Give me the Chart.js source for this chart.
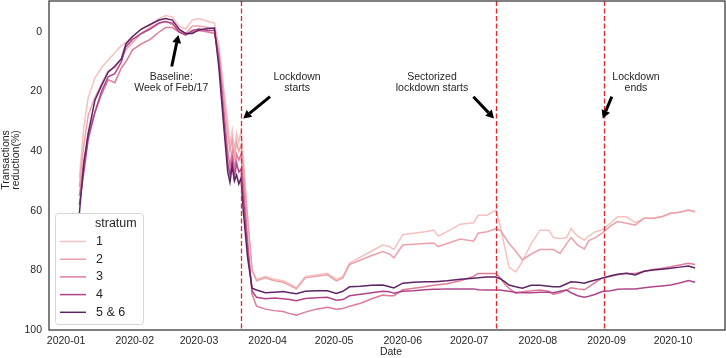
<!DOCTYPE html>
<html>
<head>
<meta charset="utf-8">
<script src="https://cdn.jsdelivr.net/npm/chart.js@4/dist/chart.umd.min.js"></script>
<style>
  html, body { margin: 0; padding: 0; background: #fff; }
</style>
</head>
<body>
<canvas id="myChart" width="726" height="358"></canvas>
<script>
// days since 2020-01-01
var days = [6, 8, 10, 13, 16, 19, 22, 25, 27, 30,
  34, 38, 42, 45, 48, 51, 54, 57, 60, 64,
  67, 69, 71, 73, 74, 75, 76, 77, 78, 79,
  80, 82, 84, 86, 90, 94, 98, 101, 104, 108,
  113, 118, 122, 125, 128, 133, 138, 143, 146, 148,
  152, 157, 162, 166, 168, 172, 178, 184, 186, 190,
  194, 196, 198, 200, 203, 206, 210, 214, 218, 220,
  223, 226, 228, 231, 234, 236, 239, 242, 246, 249,
  253, 257, 261, 265, 269, 273, 277, 281, 284];

var monthTicks = [0, 31, 60, 91, 121, 152, 182, 213, 244, 274];
var monthLabels = ["2020-01", "2020-02", "2020-03", "2020-04", "2020-05",
  "2020-06", "2020-07", "2020-08", "2020-09", "2020-10"];
var yTicks = [0, 20, 40, 60, 80, 100];

var strata = ["1", "2", "3", "4", "5 & 6"];

var stratum1 = [49, 32, 22, 15.5, 12, 9.5, 7, 4.5, 3.5, 1.5,
  -1, -2.5, -4.5, -5.5, -5, -2, -1, -4, -4.5, -3.5,
  -3, 5, 18, 30, 38, 33, 40, 34, 37, 33,
  42, 62, 80, 83, 82, 83, 83.5, 84.5, 85.8, 82,
  81.5, 81, 83, 82, 77.5, 75.5, 73.5, 71.5, 72, 73,
  68, 67.5, 67, 66.5, 68.5, 67, 64.5, 64, 61.5, 61.5,
  59.8, 65, 72, 79, 80.5, 77, 71, 66.5, 66.5, 69,
  69.3, 69, 66, 68.5, 69.8, 68.5, 67, 66.4, 64, 62,
  62, 64, 62.5, 62.5, 62, 60.8, 60.5, 59.7, 60.3];

var stratum2 = [52, 38, 28, 22, 17.5, 13, 12, 9, 6, 3.5,
  0.5, -1.5, -3, -3.5, -2.5, -0.5, 0.5, -2, -2, -1.5,
  -1, 6, 20, 34, 40, 36, 42, 37, 40, 38,
  45, 63, 80, 83.5, 82.5, 83.5, 84, 85, 86.2, 82.5,
  82, 81.5, 83.5, 82.5, 78, 76.5, 75, 73.7, 74.5, 75.8,
  71.5, 71.2, 71, 70.8, 72, 71, 69.5, 70.2, 67.5, 67,
  66, 66.5, 68.7, 71, 73.5, 76.5, 74.5, 73, 73, 73,
  74.3, 71, 69, 71.5, 72.8, 70, 69, 67.5, 65, 63.6,
  64.2, 64.8, 62.5, 62.5, 62, 60.8, 60.5, 59.7, 60.3];

var stratum3 = [55, 44, 34, 27, 21, 16, 17, 12, 10, 6,
  4, 2.5, 0, -1.5, -1.5, 0, 1, 0, -0.5, 0,
  0.5, 8, 24, 40, 45, 40, 46, 41, 43, 41,
  50, 70, 88, 92, 93, 93.5, 93.8, 94.5, 95, 94,
  93, 92.4, 93, 92.8, 92, 91, 89.5, 88.3, 88.5, 88.5,
  86.5, 86, 85.5, 85, 84.8, 84.5, 83.5, 82, 81, 81,
  81, 82.5, 84.5, 86, 87.7, 87.2, 86.8, 86.6, 87, 88,
  87.5, 86.6, 85.8, 86.2, 86.5, 85.5, 84, 82.6, 82, 81.5,
  81, 81, 80.3, 79.7, 79.3, 78.8, 78.2, 77.6, 78];

var stratum4 = [58, 47, 36, 27, 20, 15, 14, 10, 5, 2.5,
  0.5, -1, -3, -3.5, -3, 0, 1, -0.5, -1, -0.5,
  -0.5, 10, 27, 44, 48, 43, 49, 44, 47, 46,
  55, 73, 87, 89, 89.5, 89.3, 89.5, 89.8, 90.2, 89.4,
  89.2, 89, 90, 89.8, 88.5, 88, 87.5, 87, 87.2, 87.7,
  87, 86.8, 86.5, 86.3, 86.3, 86.2, 86.2, 86.2, 86.5, 86.6,
  86.6, 86.6, 86.8, 87, 87.3, 87.5, 87.5, 87.3, 87.3, 87.5,
  87, 86.6, 87.5, 88.5, 89, 88.7, 88, 87.1, 86.8, 86.3,
  86.2, 86.2, 85.8, 85.5, 85.2, 84.9, 84.2, 83.4, 84];

var stratum56 = [61, 44, 34, 23, 18, 13.5, 11.5, 9, 4, 1.5,
  -1, -2.5, -4, -4.5, -4, -1, 0.5, 0.5, -0.7, -1.2,
  -1.3, 12, 30, 47, 50.5, 45, 50, 48, 51, 49,
  60, 76, 86, 86.6, 87.5, 87.3, 87.1, 87.5, 87.8, 87,
  86.8, 86.8, 87.7, 87, 85.5, 85.3, 85, 84.9, 85.5, 85.9,
  84.3, 84, 83.8, 83.8, 83.7, 83.5, 83, 82.6, 82.5, 82.2,
  82.2, 82.8, 83.8, 84.9, 85.5, 86, 85, 85, 85.3, 85.5,
  85.5, 84.5, 83.8, 84, 84.3, 83.8, 83.2, 82.6, 81.8, 81.3,
  81, 81.5, 80.3, 79.9, 79.6, 79.3, 78.9, 78.5, 79.2];

// lockdown start, sectorized lockdown, lockdown end
var eventDays = [79, 194, 243];

var series = [stratum1, stratum2, stratum3, stratum4, stratum56];
var colors = ["#f5c2c0", "#eea1aa", "#df7a98", "#b0458a", "#5e2466"];
var FONT = "'Liberation Sans', Arial, sans-serif";

var notes = [
  { lines: ["Baseline:", "Week of Feb/17"], x: 47.5, y: 15.1, from: [47.7, 11.6], to: [50.7, 1.0] },
  { lines: ["Lockdown", "starts"], x: 104.3, y: 15.1, from: [92.1, 21.7], to: [80.0, 29.0] },
  { lines: ["Sectorized", "lockdown starts"], x: 165.2, y: 15.1, from: [183.9, 21.7], to: [193.2, 29.0] },
  { lines: ["Lockdown", "ends"], x: 257.3, y: 15.1, from: [246.4, 21.7], to: [242.3, 29.0] },
];

function drawArrow(ctx, x1, y1, x2, y2) {
  var ang = Math.atan2(y2 - y1, x2 - x1);
  var hl = 8, hw = 4.5;
  var bx = x2 - hl * Math.cos(ang), by = y2 - hl * Math.sin(ang);
  ctx.beginPath();
  ctx.moveTo(x1, y1);
  ctx.lineTo(bx, by);
  ctx.lineWidth = 3;
  ctx.strokeStyle = "#000";
  ctx.stroke();
  ctx.beginPath();
  ctx.moveTo(x2, y2);
  ctx.lineTo(bx + hw * Math.sin(ang), by - hw * Math.cos(ang));
  ctx.lineTo(bx - hw * Math.sin(ang), by + hw * Math.cos(ang));
  ctx.closePath();
  ctx.fillStyle = "#000";
  ctx.fill();
}

var extras = {
  id: "extras",
  afterDatasetsDraw: function (chart) {
    var ctx = chart.ctx, a = chart.chartArea;
    var xs = chart.scales.x, ys = chart.scales.y;
    ctx.save();
    // event lines
    ctx.strokeStyle = "#e3262b";
    ctx.lineWidth = 1.3;
    ctx.setLineDash([5, 2.5]);
    eventDays.forEach(function (d) {
      var px = Math.round(xs.getPixelForValue(d)) + 0.5;
      ctx.beginPath();
      ctx.moveTo(px, a.top);
      ctx.lineTo(px, a.bottom);
      ctx.stroke();
    });
    ctx.setLineDash([]);
    // frame
    ctx.strokeStyle = "#333";
    ctx.lineWidth = 1.25;
    ctx.strokeRect(a.left, a.top, a.right - a.left, a.bottom - a.top);
    // annotations
    ctx.font = "10.5px " + FONT;
    ctx.fillStyle = "#262626";
    ctx.textAlign = "center";
    ctx.textBaseline = "middle";
    notes.forEach(function (n) {
      var px = xs.getPixelForValue(n.x), py = ys.getPixelForValue(n.y);
      n.lines.forEach(function (t, i) {
        ctx.fillStyle = "#262626";
        ctx.fillText(t, px, py + i * 11);
      });
      drawArrow(ctx, xs.getPixelForValue(n.from[0]), ys.getPixelForValue(n.from[1]),
        xs.getPixelForValue(n.to[0]), ys.getPixelForValue(n.to[1]));
    });
    // axis titles
    ctx.fillStyle = "#262626";
    ctx.font = "10.5px " + FONT;
    ctx.fillText("Date", (a.left + a.right) / 2 + 4, 352);
    ctx.translate(11, 160);
    ctx.rotate(-Math.PI / 2);
    ctx.fillText("Transactions", 0, -5);
    ctx.fillText("reduction(%)", 0, 5.5);
    ctx.restore();
  },
  afterDraw: function (chart) {
    var ctx = chart.ctx, a = chart.chartArea;
    var bx = a.left + 6, by = a.bottom - 117, bw = 88, bh = 111;
    ctx.save();
    ctx.beginPath();
    ctx.roundRect(bx + 0.5, by + 0.5, bw, bh, 3);
    ctx.fillStyle = "rgba(255,255,255,0.85)";
    ctx.fill();
    ctx.strokeStyle = "#d6d6d6";
    ctx.lineWidth = 1;
    ctx.stroke();
    ctx.font = "12.5px " + FONT;
    ctx.textBaseline = "middle";
    ctx.textAlign = "left";
    ctx.fillStyle = "#262626";
    ctx.fillText("stratum", bx + 40, by + 11);
    strata.forEach(function (s, i) {
      var ry = by + 28.5 + i * 17.7;
      ctx.beginPath();
      ctx.moveTo(bx + 5, ry);
      ctx.lineTo(bx + 31, ry);
      ctx.strokeStyle = colors[i];
      ctx.lineWidth = 1.5;
      ctx.stroke();
      ctx.fillStyle = "#262626";
      ctx.fillText(s, bx + 41, ry);
    });
    ctx.restore();
  },
};

var datasets = series.map(function (vals, i) {
  return {
    label: strata[i],
    data: days.map(function (d, j) { return { x: d, y: vals[j] }; }),
    borderColor: colors[i],
    backgroundColor: colors[i],
    borderWidth: 1.5,
    pointRadius: 0,
    tension: 0,
    fill: false,
    order: series.length - i,
  };
});

var ctx = document.getElementById("myChart").getContext("2d");
var myChart = new Chart(ctx, {
  type: "line",
  data: { datasets: datasets },
  plugins: [extras],
  options: {
    responsive: false,
    devicePixelRatio: 1,
    animation: false,
    layout: { padding: { top: 1, right: 1, left: 0, bottom: 0 } },
    plugins: {
      legend: { display: false },
      tooltip: { enabled: false },
    },
    scales: {
      x: {
        type: "linear",
        min: -7.7,
        max: 297.5,
        grid: { display: false, drawTicks: false },
        border: { display: false },
        afterBuildTicks: function (axis) {
          axis.ticks = monthTicks.map(function (v) { return { value: v }; });
        },
        afterFit: function (axis) {
          axis.height = 28;
          axis.paddingLeft = 0;
          axis.paddingRight = 0;
        },
        ticks: {
          autoSkip: false,
          maxRotation: 0,
          padding: 5,
          color: "#262626",
          font: { family: FONT, size: 10.5 },
          callback: function (v) {
            var i = monthTicks.indexOf(v);
            return i >= 0 ? monthLabels[i] : "";
          },
        },
      },
      y: {
        type: "linear",
        reverse: true,
        min: -10.4,
        max: 100,
        grid: { display: false, drawTicks: false },
        border: { display: false },
        afterBuildTicks: function (axis) {
          axis.ticks = yTicks.map(function (v) { return { value: v }; });
        },
        afterFit: function (axis) {
          axis.width = 49;
          axis.paddingTop = 0;
          axis.paddingBottom = 0;
        },
        ticks: {
          padding: 7,
          color: "#262626",
          font: { family: FONT, size: 10.5 },
          callback: function (v) { return String(v); },
        },
      },
    },
  },
});
</script>
</body>
</html>
